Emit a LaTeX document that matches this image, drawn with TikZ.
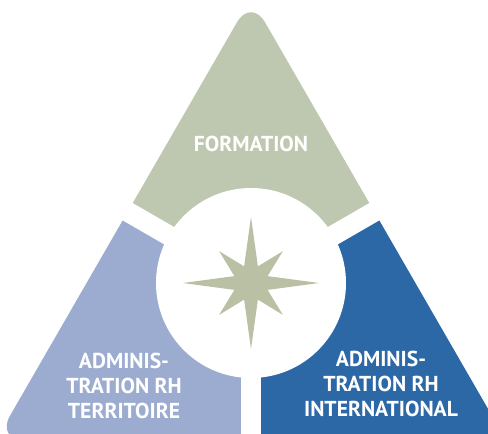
\documentclass[tikz,border=0pt]{standalone}
\usepackage{fontspec}
\setmainfont{PT Sans}
\usetikzlibrary{positioning}

\definecolor{sage}{RGB}{190,200,176}
\definecolor{starsage}{RGB}{186,192,164}
\definecolor{paleblue}{RGB}{155,172,208}
\definecolor{deepblue}{RGB}{44,104,166}

\tikzset{
  sector label/.style={text=white, font=\bfseries\fontsize{10.8}{12.3}\selectfont, align=center, inner sep=0pt},
  gap band/.style={white, line width=10pt},
}

\begin{document}
\begin{tikzpicture}[x=0.5pt,y=-0.5pt]
    \useasboundingbox (0,0) rectangle (488,434);
    \clip (0,0) rectangle (488,434);
    \coordinate (hub) at (251,283);
    \coordinate (apex) at (251,-2);
    \coordinate (cornerL) at (-4,440);
    \coordinate (cornerR) at (506,440);
    % the three parts of the triangle
    \begin{scope}
    \clip[rounded corners=14pt] (apex) -- (cornerL) -- (cornerR) -- cycle;
    \fill [sage] (hub) -- (-95,83) -- (-95,-100) -- (597,-100) -- (597,83) -- cycle;
    \fill [paleblue] (hub) -- (-95,83) -- (-95,600) -- (251,600) -- cycle;
    \fill [deepblue] (hub) -- (251,600) -- (597,600) -- (597,83) -- cycle;
    \end{scope}
    % white gaps and disc
    \draw [gap band] (hub) -- (-95,83);
    \draw [gap band] (hub) -- (597,83);
    \draw [gap band] (hub) -- (251,600);
    \fill [white] (hub) circle (47.5pt);
    % compass star
    \fill [starsage, shift={(hub)}] (0:34pt)
      \foreach \a/\r in {22.5/9, 45/22.5, 67.5/9, 90/33, 112.5/9, 135/22.5, 157.5/9, 180/34,
                         202.5/9, 225/22.5, 247.5/9, 270/33, 292.5/9, 315/22.5, 337.5/9} {
        -- (\a:\r pt)
      } -- cycle;
    % labels
    \node [sector label] (formation) at (251,144) {FORMATION};
    \node [sector label] (territoire) at (124,386) {ADMINIS-\\TRATION RH\\TERRITOIRE};
    \node [sector label] (international) at (381,384) {ADMINIS-\\TRATION RH\\INTERNATIONAL};
\end{tikzpicture}
\end{document}
